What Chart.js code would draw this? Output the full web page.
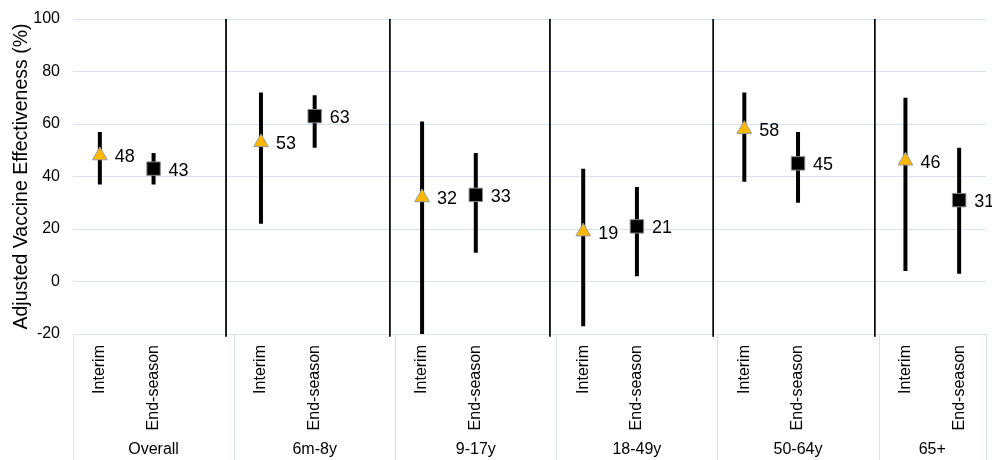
<!DOCTYPE html>
<html>
<head>
<meta charset="utf-8">
<script src="https://cdn.jsdelivr.net/npm/chart.js@4/dist/chart.umd.min.js"></script>
<style>
  body { margin: 0; background: #fff; }
  #wrap { width: 992px; height: 460px; position: relative; }
</style>
</head>
<body>
<div id="wrap"><canvas id="veChart"></canvas></div>
<script>
// Chart data
const groups = ['Overall', '6m-8y', '9-17y', '18-49y', '50-64y', '65+'];
const slotLabels = ['Interim', 'End-season'];

const interimVE = [48, 53, 32, 19, 58, 46];
const interimLo = [37, 22, -20, -17, 38, 4];
const interimHi = [57, 72, 61, 43, 72, 70];

const endVE = [43, 63, 33, 21, 45, 31];
const endLo = [37, 51, 11, 2, 30, 3];
const endHi = [49, 71, 49, 36, 57, 51];

// vertical divider lines between groups (x in slot units)
const dividerX = [2.35, 5.4, 8.38, 11.42, 14.43];

const yTicks = [100, 80, 60, 40, 20, 0, -20];

const fontFamily = '"Liberation Sans", Arial, sans-serif';
const gridBlue = '#D9E2F3';

// x position of each slot: 3 slots per group (Interim, End-season, gap)
const interimX = groups.map((g, i) => i * 3);
const endX = groups.map((g, i) => i * 3 + 1);
const slotMin = -0.5;
const slotMax = groups.length * 3 - 1.5;

// group boundaries and centres for the lower label row
const groupBounds = groups.map((g, i) => i * 3 - 0.5).concat([slotMax]);
const groupCenters = groups.map((g, i) => (groupBounds[i] + groupBounds[i + 1]) / 2);

// error bars as one broken line
function errorBarPoints(xs, lo, hi) {
    const pts = [];
    xs.forEach((x, i) => {
        pts.push({ x: x, y: lo[i] });
        pts.push({ x: x, y: hi[i] });
        pts.push({ x: x, y: null });
    });
    return pts;
}

const dividerPoints = [];
dividerX.forEach(x => {
    dividerPoints.push({ x: x, y: 100 });
    dividerPoints.push({ x: x, y: -21 });
    dividerPoints.push({ x: x, y: null });
});

// Value labels to the right of the markers
const valueLabels = {
    id: 'valueLabels',
    afterDatasetsDraw(chart) {
        const ctx = chart.ctx;
        ctx.save();
        ctx.font = '18px ' + fontFamily;
        ctx.fillStyle = '#000';
        ctx.textAlign = 'left';
        ctx.textBaseline = 'middle';
        chart.data.datasets.forEach((ds, di) => {
            if (!ds.showValues) return;
            const meta = chart.getDatasetMeta(di);
            meta.data.forEach((pt, i) => {
                ctx.fillText(String(ds.data[i].y), pt.x + 15, pt.y + 2);
            });
        });
        ctx.restore();
    }
};

// Group labels and boundary lines under the axis
const groupAxis = {
    id: 'groupAxis',
    afterDraw(chart) {
        const ctx = chart.ctx;
        const xs = chart.scales.x;
        const top = chart.chartArea.bottom;
        const bottom = chart.height;
        ctx.save();
        ctx.strokeStyle = gridBlue;
        ctx.lineWidth = 1;
        groupBounds.forEach(b => {
            const px = Math.round(xs.getPixelForValue(b)) + 0.5;
            ctx.beginPath();
            ctx.moveTo(px, top);
            ctx.lineTo(px, bottom);
            ctx.stroke();
        });
        ctx.font = '16px ' + fontFamily;
        ctx.fillStyle = '#000';
        ctx.textAlign = 'center';
        ctx.textBaseline = 'middle';
        groups.forEach((g, i) => {
            ctx.fillText(g, xs.getPixelForValue(groupCenters[i]), 450);
        });
        ctx.restore();
    }
};

function initChart() {
    const ctx = document.getElementById('veChart').getContext('2d');
    new Chart(ctx, {
        type: 'scatter',
        data: {
            datasets: [
                {
                    label: 'dividers',
                    type: 'line',
                    data: dividerPoints,
                    borderColor: '#000',
                    borderWidth: 1,
                    pointRadius: 0,
                    spanGaps: false,
                    clip: false,
                    order: 3
                },
                {
                    label: 'Interim CI',
                    type: 'line',
                    data: errorBarPoints(interimX, interimLo, interimHi),
                    borderColor: '#000',
                    borderWidth: 4,
                    pointRadius: 0,
                    spanGaps: false,
                    order: 2
                },
                {
                    label: 'End-season CI',
                    type: 'line',
                    data: errorBarPoints(endX, endLo, endHi),
                    borderColor: '#000',
                    borderWidth: 4,
                    pointRadius: 0,
                    spanGaps: false,
                    order: 2
                },
                {
                    label: 'Interim',
                    data: interimX.map((x, i) => ({ x: x, y: interimVE[i] })),
                    pointStyle: 'triangle',
                    pointRadius: 8.5,
                    backgroundColor: '#FFB800',
                    borderColor: '#9A9A9A',
                    borderWidth: 1,
                    showValues: true,
                    order: 0
                },
                {
                    label: 'End-season',
                    data: endX.map((x, i) => ({ x: x, y: endVE[i] })),
                    pointStyle: 'rect',
                    pointRadius: 9.5,
                    backgroundColor: '#000',
                    borderColor: '#8A8A8A',
                    borderWidth: 1,
                    showValues: true,
                    order: 0
                }
            ]
        },
        options: {
            responsive: true,
            maintainAspectRatio: false,
            animation: false,
            layout: { autoPadding: false, padding: { top: 19, right: 6, left: 0, bottom: 0 } },
            plugins: {
                legend: { display: false },
                tooltip: { enabled: false }
            },
            scales: {
                x: {
                    type: 'linear',
                    min: slotMin,
                    max: slotMax,
                    afterBuildTicks: scale => {
                        scale.ticks = interimX.concat(endX).sort((a, b) => a - b).map(v => ({ value: v }));
                    },
                    afterFit: scale => {
                        scale.height = 126;
                        scale.paddingLeft = 0;
                        scale.paddingRight = 0;
                    },
                    grid: { display: false },
                    border: { display: false },
                    ticks: {
                        autoSkip: false,
                        minRotation: 90,
                        maxRotation: 90,
                        padding: 3,
                        color: '#000',
                        font: { family: fontFamily, size: 16 },
                        callback: value => slotLabels[Math.round(value) % 3]
                    }
                },
                y: {
                    min: -20,
                    max: 100,
                    afterBuildTicks: scale => {
                        scale.ticks = yTicks.map(v => ({ value: v }));
                    },
                    afterFit: scale => {
                        scale.width = 73;
                        scale.paddingTop = 0;
                        scale.paddingBottom = 0;
                    },
                    grid: { color: gridBlue, drawTicks: false },
                    border: { display: false },
                    ticks: {
                        padding: 13,
                        color: '#000',
                        font: { family: fontFamily, size: 16 }
                    },
                    title: {
                        display: true,
                        text: 'Adjusted Vaccine Effectiveness (%)',
                        color: '#000',
                        padding: { top: 10, bottom: 0 },
                        font: { family: fontFamily, size: 19.5 }
                    }
                }
            }
        },
        plugins: [valueLabels, groupAxis]
    });
}

document.addEventListener('DOMContentLoaded', () => {
    initChart();
});
</script>
</body>
</html>
